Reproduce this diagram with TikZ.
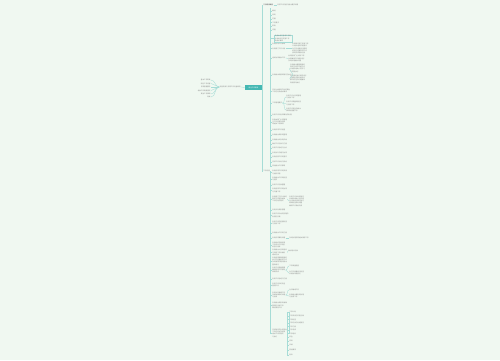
\documentclass[tikz,border=0pt]{standalone}
\usepackage{fontspec}
\newfontfamily\cjk{Noto Sans CJK SC}
\usetikzlibrary{positioning}

\definecolor{bgcol}{HTML}{F0F8F1}
\definecolor{rootcol}{HTML}{45B8B3}
\definecolor{linecol}{HTML}{A6DCD6}
\definecolor{txtcol}{HTML}{858585}

\begin{document}
\begin{tikzpicture}[
    x=1pt, y=-1pt,
    every node/.style = {inner sep=0.25pt, font=\cjk\fontsize{1.6}{2.3}\selectfont, text=txtcol, align=left},
    root/.style  = {fill=rootcol, text=white, inner sep=0.6pt, minimum width=17pt, minimum height=5pt},
    item/.style  = {anchor=west},
    litem/.style = {anchor=east, align=right},
    boxed/.style = {anchor=west, draw=linecol, line width=0.3pt, inner sep=0.8pt},
    spine/.style = {draw=linecol, line width=0.8pt},
    conn/.style  = {draw=linecol, line width=0.35pt}
]

\fill[bgcol] (0,0) rectangle (500,360);
\useasboundingbox (0,0) rectangle (500,360);

% root
\node[root] (root) at (253.5,87.5) {岗位工作职责};

% left branch
\node[litem] (lt) at (241,87) {岗位职责与日常工作内容说明};
\draw[conn] (root.west) -- (lt.east);
\foreach \i/\yy/\t in {1/80/基本工作职责, 2/83.5/岗位工作内容, 3/87/日常管理要求,
                       4/90.5/相关工作制度规定, 5/94/其他工作事项, 6/97/附录}
{
    \node[litem] (lc\i) at (211,\yy) {\t};
    \draw[conn] (lt.west) to[out=180,in=0] (lc\i.east);
}

% right branch: two topics
\node[item, font=\cjk\bfseries\fontsize{1.6}{2.3}\selectfont] (ta) at (263,5) {工作职责概述};
\node[item] (ta0) at (277,5) {日常工作内容与相关要求说明};
\node[item] (tb) at (263,171) {工作内容};
\draw[spine] (root.east) |- (ta.west);
\draw[spine] (root.east) |- (tb.west);
\draw[conn] (ta.east) -- (ta0.west);

% topic a: children
\coordinate (as) at (270,8);
\foreach \i/\yy/\t in {
    1/11/概述, 2/15/目的, 3/19/范围, 4/22.5/工作要求, 5/26/职责, 6/30/流程,
    8/44/负责日常工作事项,
    9/48.5/负责部门工作计划,
    10/58/组织协调相关工作,
    11/75/负责相关制度的制定与执行,
    12/91/{完成上级领导交办的其他\\工作任务及相关事项},
    13/103/工作管理要求,
    14/115/负责工作中各项事务的处理,
    15/122/{负责本部门人员管理\\与工作安排及考核\\等相关工作事项},
    16/130/负责日常工作检查,
    17/135/负责相关资料的整理,
    18/140/负责相关文件的归档,
    19/144/做好工作记录与汇报,
    20/148/负责工作总结与分析,
    21/153/负责对外沟通与协调,
    22/157/负责内部工作的落实,
    23/162/完成工作计划与目标,
    24/166/其他相关工作事项}
{
    \node[item] (a\i) at (272,\yy) {\t};
    \draw[conn] (as) |- (a\i.west);
}
\node[boxed] (a7) at (274,38.5) {负责本部门各项工作的\\计划组织与实施工作\\及相关事项};
\draw[conn] (as) |- (a7.west);

% topic a: grandchildren
\node[item] (a9c) at (292,48.5) {负责制定部门年度工作\\计划并组织实施落实\\对工作进度进行跟踪\\检查与监督各项工作\\按时完成相关任务};
\node[item] (a10c) at (288,58.5) {协调各部门之间的工作\\关系确保工作顺利进行\\及时处理相关问题};
\node[item] (a11c1) at (290,68) {负责相关管理制度的\\制定与修订完善工作\\并组织相关人员学习\\与贯彻执行};
\node[item] (a11c2) at (290,79) {对制度的执行情况进行\\监督检查及时发现并\\解决存在的问题确保\\制度有效执行};
\node[item] (a13c1) at (286,97) {负责工作人员的管理\\与培训工作};
\node[item] (a13c2) at (286,103.5) {负责工作质量的检查\\与考核工作};
\node[item] (a13c3) at (286,110) {负责工作安全及相关\\事项的管理工作};
\draw[conn] (a9.east) -- (a9c.west);
\draw[conn] (a10.east) -- (a10c.west);
\foreach \c in {a11c1, a11c2}
    \draw[conn] (a11.east) to[out=0,in=180] (\c.west);
\foreach \c in {a13c1, a13c2, a13c3}
    \draw[conn] (a13.east) to[out=0,in=180] (\c.west);

% topic b: children
\coordinate (bs) at (270,171);
\foreach \i/\yy/\t in {
    1/172.5/{负责日常工作的安排\\与组织实施},
    2/179/{负责相关工作的检查\\与落实},
    3/185/负责工作记录整理,
    4/190.5/{负责各项工作的协调\\与沟通工作},
    5/199/{负责部门工作计划的\\制定与实施及相关\\工作任务的落实},
    6/210/负责文件资料管理,
    7/215.5/{负责工作中出现问题的\\处理与反馈},
    8/223/{负责工作的监督检查\\与考核工作},
    9/233/负责相关工作的汇报,
    10/238/负责日常事务处理,
    11/245/{负责组织开展各项\\工作并对工作进行\\检查与指导},
    12/252.5/{负责相关人员的培训\\与考核工作并做好\\相关记录},
    13/261/{负责各项规章制度的\\执行与监督检查工作\\及时发现问题并提出\\整改意见},
    14/270/{负责工作质量管理\\确保各项工作按时\\保质完成},
    15/279/负责工作总结与汇报,
    16/285/{负责工作中的安全\\管理工作},
    17/295/{负责对外联络工作\\及相关事务的处理\\与协调},
    18/305.5/{负责相关资料的收集\\整理与归档工作\\做好保密工作},
    19/333/{完成领导交办的其他\\工作任务以及各项\\相关工作的落实\\与执行}}
{
    \node[item] (b\i) at (272,\yy) {\t};
    \draw[conn] (bs) |- (b\i.west);
}

% topic b: grandchildren
\node[item] (b5c) at (289,201) {负责工作计划的制定\\并组织相关人员实施\\对计划执行情况进行\\跟踪检查及时调整\\确保工作目标完成};
\node[item] (b10c) at (289,238) {及时处理日常相关事务工作};
\node[item] (b12c) at (288,251) {做好培训记录};
\node[item] (b14c1) at (289,266) {工作质量检查};
\node[item] (b14c2) at (289,273) {对工作质量进行检查\\并提出改进意见};
\node[item] (b17c1) at (289,290) {对外联络工作};
\node[item] (b17c2) at (289,296) {负责相关事务的处理\\与协调工作};
\draw[conn] (b5.east) -- (b5c.west);
\draw[conn] (b10.east) -- (b10c.west);
\draw[conn] (b12.east) -- (b12c.west);
\foreach \c in {b14c1, b14c2}
    \draw[conn] (b14.east) to[out=0,in=180] (\c.west);
\foreach \c in {b17c1, b17c2}
    \draw[conn] (b17.east) to[out=0,in=180] (\c.west);

% topic b: last item with many leaves
\coordinate (ls) at (287,312);
\foreach \j/\yy/\t in {1/312/工作计划, 2/316/{工作安排与实施方案}, 3/319.5/工作检查,
    4/323/{工作记录与总结报告}, 5/326.5/工作汇报, 6/330/工作考核,
    7/333.5/工作培训, 8/337/安全, 9/341/资料, 10/345/归档,
    11/350/其他事项, 12/355/附件}
{
    \node[item] (bl\j) at (289,\yy) {\t};
    \draw[conn] (ls) |- (bl\j.west);
}
\draw[conn] (b19.east) -- ++(2,0) |- (ls);

\end{tikzpicture}
\end{document}
